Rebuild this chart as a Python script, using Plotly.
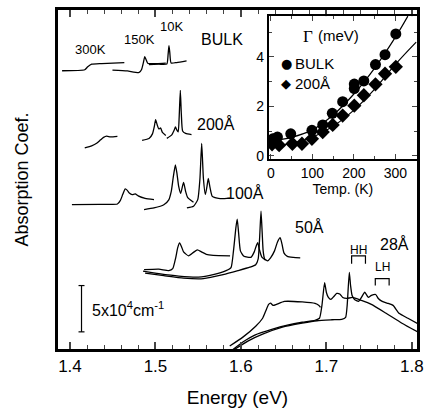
import plotly.graph_objects as go

# ---------------- main panel data (Energy in eV, absorption offset in arb. units) -------------
bulk_300_E = [1.3908, 1.4173, 1.4208, 1.4254, 1.4370, 1.4636]
bulk_300_A = [280.7, 281.7, 284.7, 287.3, 288, 289]
bulk_150_E = [1.4497, 1.4671, 1.4809, 1.4838, 1.4859, 1.4875, 1.4894, 1.4913, 1.5017, 1.5121]
bulk_150_A = [281.3, 280.5, 279, 282, 289, 295, 291.3, 288, 288, 288.5]
bulk_10_E = [1.4925, 1.5040, 1.5133, 1.5148, 1.5158, 1.5168, 1.5183, 1.5249, 1.5364]
bulk_10_A = [287, 287.3, 287.5, 297, 306, 299, 288.5, 289, 290.7]

w200_300_E = [1.4173, 1.4254, 1.4312, 1.4358, 1.4393, 1.4428, 1.4474, 1.4555]
w200_300_A = [203, 205, 207.5, 211, 213.5, 214.7, 214, 214.5]
w200_150_E = [1.4844, 1.4925, 1.4965, 1.4988, 1.5002, 1.5021, 1.5040, 1.5060, 1.5081, 1.5121]
w200_150_A = [210.5, 212.3, 217, 225, 231.5, 226, 222, 223, 218.5, 215.5]
w200_10_E = [1.5133, 1.5191, 1.5220, 1.5234, 1.5249, 1.5266, 1.5280, 1.5291, 1.5303, 1.5318, 1.5353, 1.5422]
w200_10_A = [212.5, 216, 221, 224, 221, 219, 239, 261, 237, 220, 217.5, 216.3]

w100_300_E = [1.4023, 1.4347, 1.4555, 1.4590, 1.4618, 1.4647, 1.4671, 1.4694, 1.4728, 1.4763, 1.4798, 1.4879, 1.4983]
w100_300_A = [145.7, 146, 146.3, 150, 156, 161.5, 160, 157.3, 155.7, 156.5, 154.5, 152, 150.7]
w100_150_E = [1.4867, 1.4983, 1.5098, 1.5156, 1.5185, 1.5208, 1.5233, 1.5252, 1.5272, 1.5295, 1.5329, 1.5353, 1.5376, 1.5445]
w100_150_A = [140.7, 142.3, 145.5, 150.5, 159, 173, 185.7, 177, 164, 157, 168, 159, 153, 148]
w100_10_E = [1.5368, 1.5445, 1.5495, 1.5520, 1.5541, 1.5561, 1.5584, 1.5601, 1.5618, 1.5638, 1.5665, 1.5757, 1.5873]
w100_10_A = [142.3, 144, 150.7, 171, 207.3, 172.3, 156, 163, 172, 163, 154, 151.7, 152.3]

w50_300_E = [1.4867, 1.5040, 1.5156, 1.5202, 1.5237, 1.5260, 1.5283, 1.5306, 1.5329, 1.5387, 1.5445, 1.5491, 1.5538, 1.5595, 1.5676, 1.5873]
w50_300_A = [80, 80.5, 79, 81, 92, 102, 107, 103, 98, 94, 97.5, 100, 98, 95.5, 94.5, 94]
w50_150_E = [1.4855, 1.5040, 1.5272, 1.5503, 1.5676, 1.5827, 1.5884, 1.5913, 1.5942, 1.5957, 1.5973, 1.5994,
             1.6035, 1.6116, 1.6156, 1.6179, 1.6197, 1.6214, 1.6243, 1.6289]
w50_150_A = [78.5, 76, 73.5, 72.5, 75, 79, 82, 99, 123, 131, 117, 99, 93.5, 92.5, 98, 104, 107.3, 101, 93, 89.5]
w50_10_E = [1.4879, 1.5098, 1.5329, 1.5561, 1.5792, 1.5965, 1.6104, 1.6173, 1.6202, 1.6220, 1.6235, 1.6249,
            1.6260, 1.6277, 1.6312, 1.6347, 1.6393, 1.6428, 1.6459, 1.6480, 1.6503, 1.6543, 1.6613, 1.6694]
w50_10_A = [76.5, 74, 71.5, 71, 75, 79, 82.5, 85, 91, 114, 139, 117, 99, 91, 89, 92, 99, 108, 112.3, 106, 97,
            93.5, 92.5, 92]

w28_300_E = [1.5869, 1.6023, 1.6173, 1.6254, 1.6289, 1.6324, 1.6347, 1.6376, 1.6416, 1.6509, 1.6717, 1.6867, 1.6913, 1.6931]
w28_300_A = [3, 12, 23, 31, 38, 45, 46.3, 44, 45, 48, 47.5, 46, 44, 42]
w28_150_E = [1.5885, 1.6023, 1.6162, 1.6370, 1.6543, 1.6717, 1.6867, 1.6919, 1.6948, 1.6979, 1.7000, 1.7023,
             1.7052, 1.7087, 1.7121, 1.7156, 1.7191, 1.7237, 1.7306, 1.7410, 1.7526, 1.7699, 1.7884, 1.8066]
w28_150_A = [-2, 7, 14, 20, 24, 27, 29, 31, 44, 67, 57, 52, 50, 53, 56, 55.5, 52, 51, 52, 49, 45, 36, 26, 17.3]
w28_10_E = [1.5896, 1.6081, 1.6254, 1.6486, 1.6717, 1.6890, 1.7064, 1.7179, 1.7225, 1.7243, 1.7268, 1.7283,
            1.7301, 1.7329, 1.7376, 1.7410, 1.7449, 1.7474, 1.7491, 1.7526, 1.7576, 1.7607, 1.7653, 1.7723,
            1.7780, 1.7850, 1.7954, 1.8066]
w28_10_A = [-2, 8, 15, 22, 26, 28.5, 29.5, 30, 32, 44, 77.3, 64, 54, 50, 48, 52, 57.3, 54, 52, 54, 55, 51, 48,
            46, 44, 36, 31, 25.7]

spectra = [
    (bulk_300_E, bulk_300_A), (bulk_150_E, bulk_150_A), (bulk_10_E, bulk_10_A),
    (w200_300_E, w200_300_A), (w200_150_E, w200_150_A), (w200_10_E, w200_10_A),
    (w100_300_E, w100_300_A), (w100_150_E, w100_150_A), (w100_10_E, w100_10_A),
    (w50_300_E, w50_300_A), (w50_150_E, w50_150_A), (w50_10_E, w50_10_A),
    (w28_300_E, w28_300_A), (w28_150_E, w28_150_A), (w28_10_E, w28_10_A),
]

# ---------------- inset data: linewidth vs temperature -------------
bulk_T = [5, 16, 48, 99, 125, 148, 173, 201, 201, 224, 252, 275, 301]
bulk_G = [0.69, 0.76, 0.89, 1.03, 1.25, 1.72, 2.19, 2.72, 2.9, 3.03, 3.69, 4.09, 4.93]
w200_T = [3, 20, 52, 75, 99, 125, 149, 173, 201, 224, 252, 275, 301]
w200_G = [0.47, 0.43, 0.49, 0.49, 0.69, 0.96, 1.25, 1.63, 2.03, 2.45, 2.89, 3.32, 3.6]
bulk_fit_T = [0, 50, 100, 150, 200, 250, 300, 330]
bulk_fit_G = [0.6, 0.75, 1.05, 1.65, 2.5, 3.55, 4.8, 5.65]
w200_fit_T = [0, 50, 100, 150, 200, 250, 300, 350]
w200_fit_G = [0.4, 0.5, 0.75, 1.2, 1.85, 2.7, 3.7, 4.6]

FONT = "Arial, Liberation Sans, Helvetica, sans-serif"
fig = go.Figure()

for E, A in spectra:
    fig.add_trace(go.Scatter(x=E, y=A, mode="lines", line=dict(color="black", width=1.3, shape="spline", smoothing=0.5),
                             showlegend=False, hoverinfo="skip"))

# inset
fig.add_trace(go.Scatter(x=bulk_fit_T, y=bulk_fit_G, mode="lines", line=dict(color="black", width=1.2, shape="spline"),
                         xaxis="x2", yaxis="y2", showlegend=False))
fig.add_trace(go.Scatter(x=w200_fit_T, y=w200_fit_G, mode="lines", line=dict(color="black", width=1.2, shape="spline"),
                         xaxis="x2", yaxis="y2", showlegend=False))
fig.add_trace(go.Scatter(x=bulk_T, y=bulk_G, mode="markers", name="BULK", showlegend=False,
                         marker=dict(symbol="circle", size=11, color="black"), xaxis="x2", yaxis="y2"))
fig.add_trace(go.Scatter(x=w200_T, y=w200_G, mode="markers", name="200Å", showlegend=False,
                         marker=dict(symbol="diamond", size=11, color="black"), xaxis="x2", yaxis="y2"))

ann = [
    ("300K", 1.4243, 302, 13), ("150K", 1.4809, 312, 13), ("10K", 1.5191, 325, 13),
    ("BULK", 1.578, 312, 16), ("200Å", 1.5711, 227, 16), ("100Å", 1.6046, 157, 16),
    ("50Å", 1.6798, 123, 16), ("28Å", 1.7792, 106, 16), ("HH", 1.7376, 100, 12), ("LH", 1.7653, 83, 12),
]
annotations = [dict(text=t, x=x, y=y, xref="x", yref="y", showarrow=False, font=dict(size=s, family=FONT, color="black"))
               for t, x, y, s in ann]
annotations.append(dict(text="5x10<sup>4</sup>cm<sup>-1</sup>", x=1.4231, y=40, xref="x", yref="y", xanchor="left",
                        showarrow=False, font=dict(size=16, family=FONT, color="black")))
annotations.append(dict(text="Γ", x=0.22, y=0.94, xref="x2 domain", yref="y2 domain", showarrow=False,
                        font=dict(size=17, family="Liberation Serif, Times New Roman, serif", color="black")))
annotations.append(dict(text="(meV)", x=0.32, y=0.94, xref="x2 domain", yref="y2 domain", xanchor="left",
                        showarrow=False, font=dict(size=15, family=FONT, color="black")))
inset_keys = [("●", 0.07, 0.665, 13), ("◆", 0.072, 0.525, 13)]
inset_labels = [("BULK", 0.165, 0.665), ("200Å", 0.165, 0.525)]
for sym, x, y, s in inset_keys:
    annotations.append(dict(text=sym, x=x, y=y, xref="x2 domain", yref="y2 domain", showarrow=False,
                            font=dict(size=s, family="DejaVu Sans", color="black")))
for t, x, y in inset_labels:
    annotations.append(dict(text=t, x=x, y=y, xref="x2 domain", yref="y2 domain", xanchor="left", showarrow=False,
                            font=dict(size=15, family=FONT, color="black")))

shapes = [
    dict(type="line", xref="x", yref="y", x0=1.4135, x1=1.4135, y0=17.3, y1=64, line=dict(color="black", width=1.2)),
    dict(type="line", xref="x", yref="y", x0=1.4100, x1=1.4170, y0=64, y1=64, line=dict(color="black", width=1.2)),
    dict(type="line", xref="x", yref="y", x0=1.4100, x1=1.4170, y0=17.3, y1=17.3, line=dict(color="black", width=1.2)),
    dict(type="path", xref="x", yref="y", path="M 1.7295 86 L 1.7295 94 L 1.7457 94 L 1.7457 86",
         line=dict(color="black", width=1.2)),
    dict(type="path", xref="x", yref="y", path="M 1.7572 64 L 1.7572 71 L 1.7734 71 L 1.7734 64",
         line=dict(color="black", width=1.2)),
]

fig.update_layout(
    width=431, height=412, margin=dict(l=58, r=10, t=7, b=63),
    paper_bgcolor="white", plot_bgcolor="white",
    font=dict(family=FONT, color="black", size=15),
    annotations=annotations, shapes=shapes, showlegend=False,
    xaxis=dict(range=[1.386, 1.806], tickvals=[1.4, 1.5, 1.6, 1.7, 1.8], tickformat=".1f", ticks="inside", ticklen=7,
               tickwidth=1.5, minor=dict(dtick=0.02, tick0=1.4, ticks="inside", ticklen=4, tickwidth=1.2),
               showline=True, linewidth=2.5, linecolor="black", mirror="ticks", showgrid=False, zeroline=False,
               tickfont=dict(size=17), title=dict(text="Energy (eV)", font=dict(size=19), standoff=16)),
    yaxis=dict(range=[0, 342], showticklabels=False, ticks="", showline=True, linewidth=2.5, linecolor="black",
               mirror=True, showgrid=False, zeroline=False,
               title=dict(text="Absorption Coef.", font=dict(size=18), standoff=22)),
    xaxis2=dict(domain=[0.587, 1.0], anchor="y2", range=[-5, 352], tickvals=[0, 100, 200, 300], ticks="inside",
                ticklen=5, tickwidth=1.2, minor=dict(dtick=50, tick0=0, ticks="inside", ticklen=3),
                showline=True, linewidth=2, linecolor="black", mirror="ticks", showgrid=False, zeroline=False,
                tickfont=dict(size=14), title=dict(text="Temp. (K)", font=dict(size=14), standoff=2)),
    yaxis2=dict(domain=[0.561, 0.982], anchor="x2", range=[-0.12, 5.65], tickvals=[0, 2, 4], ticks="inside",
                ticklen=5, tickwidth=1.2, minor=dict(dtick=1, tick0=0, ticks="inside", ticklen=3),
                showline=True, linewidth=2, linecolor="black", mirror="ticks", showgrid=False, zeroline=False,
                tickfont=dict(size=14)),
)

fig.write_html("out.html", config={"displayModeBar": False}, post_script="document.body.style.margin='0';")
